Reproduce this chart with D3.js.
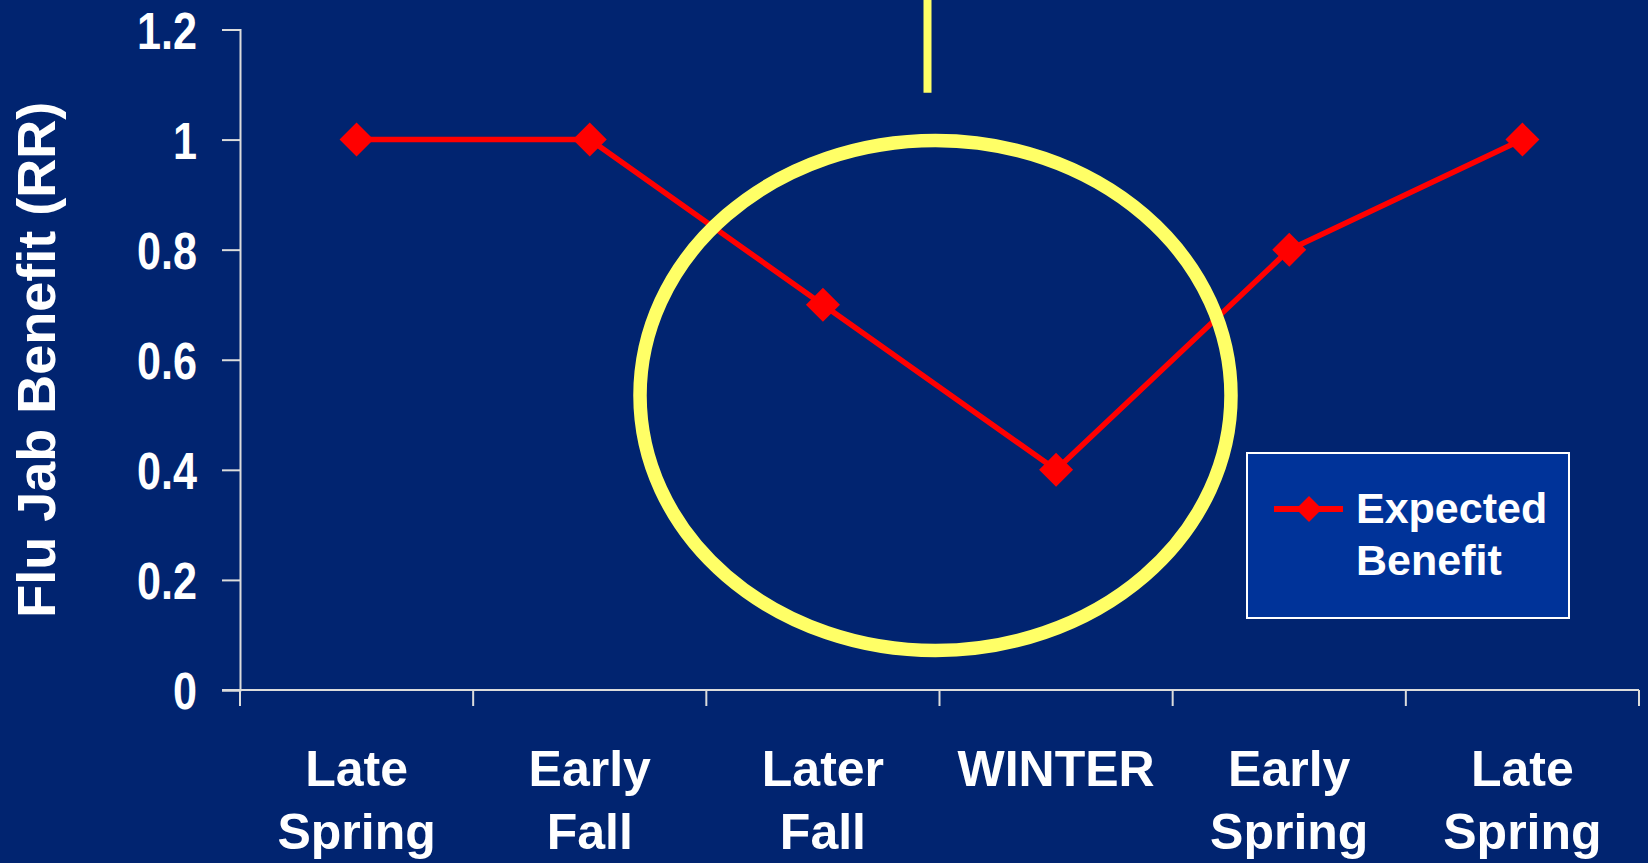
<!DOCTYPE html>
<html>
<head>
<meta charset="utf-8">
<script src="https://cdn.jsdelivr.net/npm/d3@7"></script>
<style>
  html, body { margin: 0; padding: 0; background: #012470; }
  svg { display: block; }
</style>
</head>
<body>
<svg id="chart" width="1648" height="863"></svg>
<script>
// Seasons along the x axis (two-line labels)
const seasons = ["Late Spring", "Early Fall", "Later Fall", "WINTER", "Early Spring", "Late Spring "];
const seasonLines = [["Late", "Spring"], ["Early", "Fall"], ["Later", "Fall"], ["WINTER"], ["Early", "Spring"], ["Late", "Spring"]];
// Expected flu jab benefit (relative risk) per season
const expectedBenefit = [1, 1, 0.7, 0.4, 0.8, 1];
const yTicks = [0, 0.2, 0.4, 0.6, 0.8, 1, 1.2];
const seriesName = ["Expected", "Benefit"];
const yTitle = "Flu Jab Benefit (RR)";

const W = 1648, H = 863;
const svg = d3.select("#chart");
const bg = "#012470";
const axisColor = "#dcdcdc";
const red = "#ff0000";
const yellow = "#ffff66";
const boldFont = "'Liberation Sans', Arial, sans-serif";

svg.append("rect").attr("width", W).attr("height", H).attr("fill", bg);

const plot = { left: 240, right: 1639, top: 29.5, bottom: 690 };

const x = d3.scaleBand().domain(seasons).range([plot.left, plot.right]).padding(0);
const y = d3.scaleLinear().domain([0, 1.2]).range([plot.bottom, plot.top]);

// Y axis
const yAxis = svg.append("g")
  .attr("transform", `translate(${plot.left},0)`)
  .call(d3.axisLeft(y).tickValues(yTicks).tickSize(18).tickPadding(25)
    .tickFormat(d => d3.format("~g")(d)));
yAxis.select(".domain").attr("stroke", axisColor).attr("stroke-width", 2);
yAxis.selectAll(".tick line").attr("stroke", axisColor).attr("stroke-width", 2);
const narrow = 0.83;
yAxis.selectAll(".tick text")
  .attr("fill", "#ffffff")
  .attr("font-family", boldFont)
  .attr("font-weight", "bold")
  .attr("font-size", 52)
  .attr("x", -43 / narrow)
  .attr("dy", "0.36em")
  .attr("transform", `scale(${narrow},1)`);

// X axis: ticks at the category boundaries
const boundaries = seasons.map(s => x(s)).concat([x(seasons[seasons.length - 1]) + x.bandwidth()]);
const xAxisG = svg.append("g");
xAxisG.append("line")
  .attr("x1", plot.left - 18).attr("x2", plot.right)
  .attr("y1", plot.bottom).attr("y2", plot.bottom)
  .attr("stroke", axisColor).attr("stroke-width", 2);
xAxisG.selectAll("line.tick").data(boundaries).join("line")
  .attr("class", "tick")
  .attr("x1", d => d).attr("x2", d => d)
  .attr("y1", plot.bottom).attr("y2", plot.bottom + 16)
  .attr("stroke", axisColor).attr("stroke-width", 2);

const xLabels = svg.append("g");
seasons.forEach((s, i) => {
  const t = xLabels.append("text")
    .attr("x", x(s) + x.bandwidth() / 2)
    .attr("y", 786)
    .attr("text-anchor", "middle")
    .attr("fill", "#ffffff")
    .attr("font-family", boldFont)
    .attr("font-weight", "bold")
    .attr("font-size", 50);
  seasonLines[i].forEach((ln, j) => {
    t.append("tspan")
      .attr("x", x(s) + x.bandwidth() / 2)
      .attr("dy", j === 0 ? 0 : 63)
      .text(ln);
  });
});

// Y axis title
svg.append("text")
  .attr("transform", `translate(55,${(plot.top + plot.bottom) / 2}) rotate(-90)`)
  .attr("text-anchor", "middle")
  .attr("fill", "#ffffff")
  .attr("font-family", boldFont)
  .attr("font-weight", "bold")
  .attr("font-size", 54)
  .text(yTitle);

// Series line and diamond markers
const pts = seasons.map((s, i) => [x(s) + x.bandwidth() / 2, y(expectedBenefit[i])]);
svg.append("path")
  .attr("d", d3.line()(pts))
  .attr("fill", "none")
  .attr("stroke", red)
  .attr("stroke-width", 5.5)
  .attr("stroke-linejoin", "round");
const diamond = d3.symbol().type(d3.symbolSquare).size(578);
svg.append("g").selectAll("path").data(pts).join("path")
  .attr("d", diamond)
  .attr("transform", d => `translate(${d[0]},${d[1]}) rotate(45)`)
  .attr("fill", red);

// Highlight: winter dip circled, with a pointer line from the top
const winterEdge = x("WINTER");
svg.append("line")
  .attr("x1", winterEdge - 12).attr("x2", winterEdge - 12)
  .attr("y1", 0).attr("y2", 92.7)
  .attr("stroke", yellow).attr("stroke-width", 8);
svg.append("ellipse")
  .attr("cx", winterEdge - 4)
  .attr("cy", y(0.535))
  .attr("rx", 295.5)
  .attr("ry", 255)
  .attr("fill", "none")
  .attr("stroke", yellow)
  .attr("stroke-width", 13.5);

// Legend
const lg = svg.append("g");
lg.append("rect")
  .attr("x", 1247).attr("y", 453).attr("width", 322).attr("height", 165)
  .attr("fill", "#003399").attr("stroke", "#ffffff").attr("stroke-width", 2);
lg.append("line")
  .attr("x1", 1274).attr("x2", 1343).attr("y1", 509).attr("y2", 509)
  .attr("stroke", red).attr("stroke-width", 6);
lg.append("path")
  .attr("d", d3.symbol().type(d3.symbolSquare).size(338)())
  .attr("transform", "translate(1309,509) rotate(45)")
  .attr("fill", red);
const lt = lg.append("text")
  .attr("x", 1356).attr("y", 523)
  .attr("fill", "#ffffff")
  .attr("font-family", boldFont)
  .attr("font-weight", "bold")
  .attr("font-size", 43);
seriesName.forEach((ln, j) => {
  lt.append("tspan").attr("x", 1356).attr("dy", j === 0 ? 0 : 52).text(ln);
});
</script>
</body>
</html>
